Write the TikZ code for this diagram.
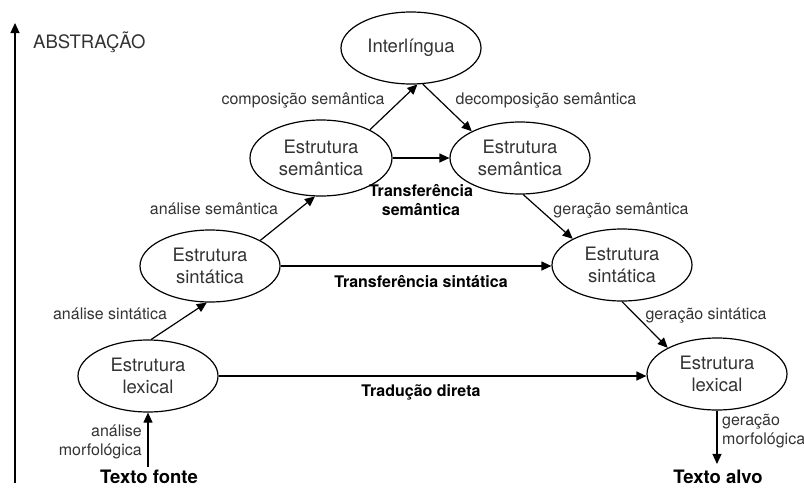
\documentclass[tikz,border=0pt]{standalone}
\usepackage{fontspec}
\setmainfont{TeX Gyre Heros}
\usetikzlibrary{shapes.geometric,arrows.meta}
\definecolor{txt}{HTML}{333333}
\begin{document}
\begin{tikzpicture}[x=1pt,y=-1pt,
  box/.style={draw=black,line width=1.2pt,ellipse,minimum width=140pt,minimum height=72pt,inner sep=0pt,align=center,text=txt,font=\fontsize{18.5}{22}\selectfont},
  lbl/.style={text=txt,font=\fontsize{16}{19}\selectfont,inner sep=0pt,text height=0.7em,text depth=0.2em},
  blbl/.style={text=black,font=\fontsize{16}{18.5}\selectfont\bfseries,inner sep=0pt,align=center},
  end/.style={text=black,font=\fontsize{18.5}{22}\selectfont\bfseries,inner sep=0pt},
  arr/.style={line width=1.2pt,-{Triangle[length=10pt,width=9pt]}}]
\useasboundingbox (0,0) rectangle (804,488);
% ellipses
\node[box] (inter) at (411,48) {Interlíngua};
\node[box,minimum width=142pt,minimum height=76pt] (semL) at (321,158) {Estrutura\\semântica};
\node[box] (semR) at (520,158) {Estrutura\\semântica};
\node[box] (sinL) at (210,266) {Estrutura\\sintática};
\node[box] (sinR) at (622,265) {Estrutura\\sintática};
\node[box] (lexL) at (148,376) {Estrutura\\lexical};
\node[box] (lexR) at (717,374) {Estrutura\\lexical};
% end texts
\node[end] (fonte) at (149,477) {Texto fonte};
\node[end] (alvo) at (718,477) {Texto alvo};
% axis
\coordinate (axB) at (15,483);
\coordinate (axT) at (15,23);
\draw[arr] (axB) -- (axT);
\node[text=txt,font=\fontsize{18.5}{22}\selectfont,anchor=west,inner sep=0pt] (abs) at (33,42) {ABSTRAÇÃO};
% connectors
\draw[arr,shorten <=3pt] (fonte.north -| lexL.south) -- (lexL.south);
\draw[arr,shorten >=6pt] (lexR.south) -- (alvo.north -| lexR.south);
\draw[arr] (lexL.85) -- (sinL.-95);
\draw[arr] (sinL.27) -- (semL.-99);
\draw[arr] (semL.30) -- (inter.-80);
\draw[arr] (inter.-72) -- (semR.151);
\draw[arr] (semL.east) -- (semR.west);
\draw[arr] (semR.-85) -- (sinR.152);
\draw[arr] (sinL.east) -- (sinR.west |- sinL.east);
\draw[arr] (sinR.-90) -- (lexR.152);
\draw[arr] (lexL.east) -- (lexR.west |- lexL.east);
% labels
\node[lbl,align=right,anchor=east,text height=,text depth=] (lm) at (142,442) {análise\\morfológica};
\node[lbl,align=left,anchor=west,text height=,text depth=] (gm) at (722,431) {geração\\morfológica};
\node[lbl] (asin) at (110,317) {análise sintática};
\node[lbl] (asem) at (214,212) {análise semântica};
\node[lbl] (csem) at (303,102) {composição semântica};
\node[lbl] (dsem) at (546,102) {decomposição semântica};
\node[blbl] (tsem) at (421,200) {Transferência\\semântica};
\node[lbl] (gsem) at (621,212) {geração semântica};
\node[blbl] (tsin) at (421,282) {Transferência sintática};
\node[lbl] (gsin) at (706,317) {geração sintática};
\node[blbl] (tdir) at (421,392) {Tradução direta};
\end{tikzpicture}
\end{document}
